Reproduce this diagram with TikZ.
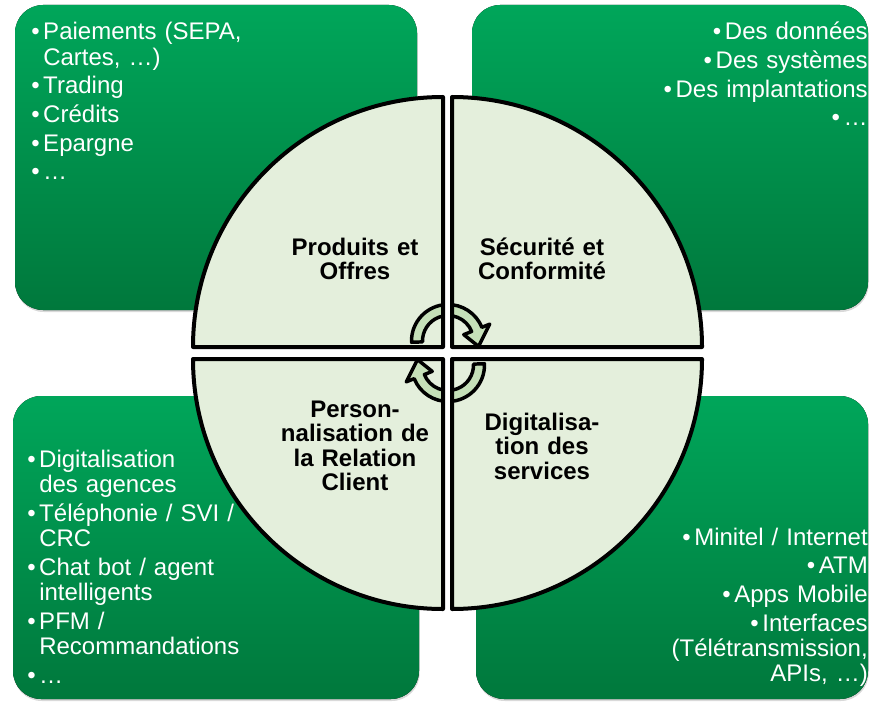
\documentclass[tikz,border=0pt]{standalone}
\usepackage{fontspec}
\setmainfont{Liberation Sans}
\usetikzlibrary{shadows}

\definecolor{boxtop}{RGB}{0,166,90}
\definecolor{boxbottom}{RGB}{0,120,60}
\definecolor{quadfill}{RGB}{228,239,220}
\definecolor{arrowfill}{RGB}{197,224,184}

\newcommand\bul{\makebox[9pt][l]{\textbullet}}
\newcommand\ind{\hspace*{9pt}}

\begin{document}
\begin{tikzpicture}[x=0.75pt,y=0.75pt,line join=round,
                    panel/.style={rounded corners=21pt,top color=boxtop,bottom color=boxbottom,drop shadow={shadow xshift=0.5pt,shadow yshift=-1.5pt,opacity=0.3}},
                    quad/.style={fill=quadfill},
                    quad line/.style={draw=black,line width=3pt},
                    cyc arrow/.style={fill=arrowfill,draw=black,line width=2.6pt},
                    quad label/.style={inner sep=0pt,anchor=base,text width=160pt,align=center,font=\bfseries\fontsize{18}{18.4}\selectfont},
                    item list/.style={inner sep=0pt,text width=260pt,text=white,font=\fontsize{18}{19}\selectfont},
                    list left/.style={item list,anchor=base west,align=left},
                    list right/.style={item list,anchor=base east,align=right}]
                    \useasboundingbox (0,0) rectangle (870,701);

                    \fill[panel] (15,391) rectangle (417,696);
                    \fill[panel] (472,391) rectangle (868,696);
                    \fill[panel] (13,2) rectangle (419,305);
                    \fill[panel] (476,2) rectangle (868,305);

                    \foreach \cx/\cy/\a in {443/354/90,452/354/0,443/342/180,452/342/270}
                        \fill[quad] (\cx,\cy) -- ++(\a:250) arc[start angle=\a,delta angle=90,radius=250] -- cycle;

                    \coordinate (c1) at (448,360);
                    \coordinate (c2) at (448,336);
                    \draw[cyc arrow] ([shift={(182:36.5)}]c1) arc[start angle=182,end angle=22,radius=36.5]
                        -- ([shift={(22:45)}]c1) -- ([shift={(-10:31)}]c1) -- ([shift={(22:17)}]c1)
                        -- ([shift={(22:25.5)}]c1) arc[start angle=22,end angle=182,radius=25.5] -- cycle;
                    \draw[cyc arrow] ([shift={(2:36.5)}]c2) arc[start angle=2,end angle=-158,radius=36.5]
                        -- ([shift={(-158:45)}]c2) -- ([shift={(-190:31)}]c2) -- ([shift={(-158:17)}]c2)
                        -- ([shift={(-158:25.5)}]c2) arc[start angle=-158,end angle=2,radius=25.5] -- cycle;

                    \fill[white] (445,290) rectangle (450,411);
                    \fill[white] (380,344) rectangle (520,352);

                    \foreach \cx/\cy/\a in {443/354/90,452/354/0,443/342/180,452/342/270}
                        \draw[quad line] (\cx,\cy) -- ++(\a:250) arc[start angle=\a,delta angle=90,radius=250] -- cycle;

                    \node[quad label] (1) at (355,446) {Produits et\\Offres};
                    \node[quad label] (2) at (542,446) {Sécurité et\\Conformité};
                    \node[quad label] (3) at (355,284) {Person-\\nalisation de\\la Relation\\Client};
                    \node[quad label] (4) at (542,271) {Digitalisa-\\tion des\\services};

                    \node[list left] (5) at (31,661) {\bul Paiements (SEPA,\\\ind Cartes, …)\\[2.5pt]\bul Trading\\[2.5pt]\bul Crédits\\[2.5pt]\bul Epargne\\[2.5pt]\bul …};
                    \node[list right] (6) at (868,661) {\bul Des données\\[2.5pt]\bul Des systèmes\\[2.5pt]\bul Des implantations\\[2.5pt]\bul …};
                    \node[list left] (7) at (27,234) {\bul Digitalisation\\\ind des agences\\[2.5pt]\bul Téléphonie / SVI /\\\ind CRC\\[2.5pt]\bul Chat bot / agent\\\ind intelligents\\[2.5pt]\bul PFM /\\\ind Recommandations\\[2.5pt]\bul …};
                    \node[list right] (8) at (868,156) {\bul Minitel / Internet\\[2.5pt]\bul ATM\\[2.5pt]\bul Apps Mobile\\[2.5pt]\bul Interfaces\\(Télétransmission,\\APIs, …)};
                \end{tikzpicture}
\end{document}
